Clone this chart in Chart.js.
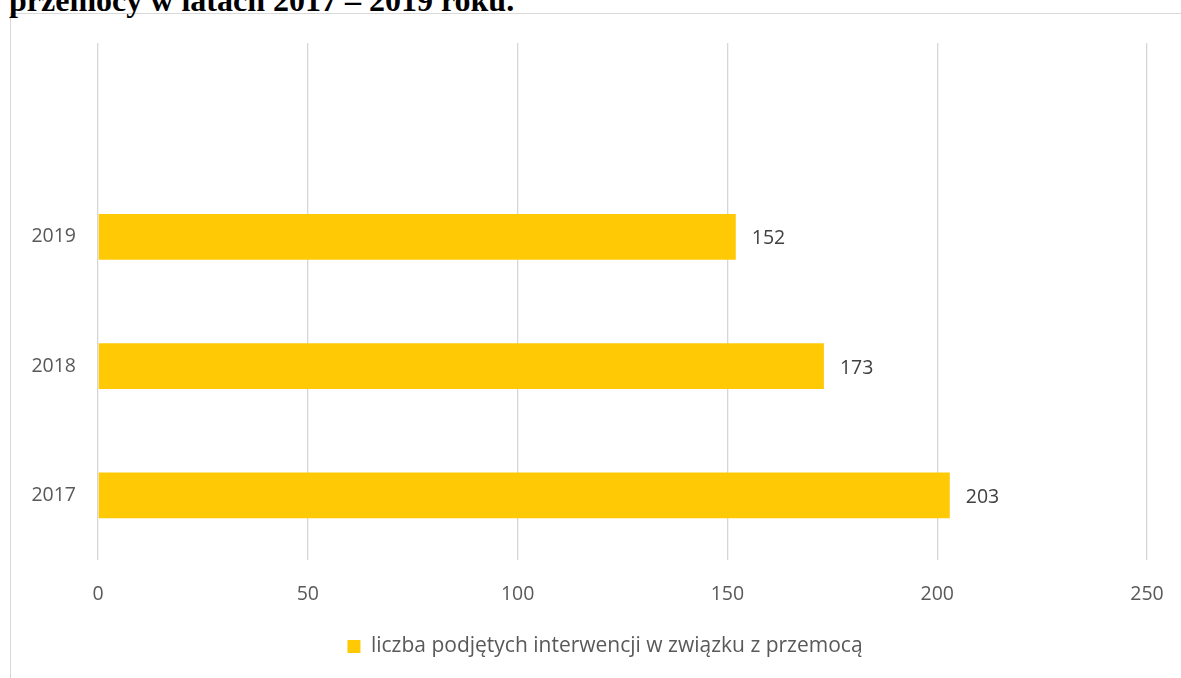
<!DOCTYPE html>
<html>
<head>
<meta charset="utf-8">
<script src="https://cdn.jsdelivr.net/npm/chart.js@4"></script>
<style>
  html, body { margin: 0; padding: 0; background: #fff; overflow: hidden; width: 1181px; height: 678px; }
  #frame { position: absolute; left: 10px; top: 13px; width: 1300px; height: 800px; border: 1px solid #d9d9d9; box-sizing: border-box; }
  #title { position: absolute; left: 9px; top: -16px; font: bold 32px "Liberation Serif", "Times New Roman", serif; line-height: 1; color: #000; white-space: nowrap; }
  #wrap { position: absolute; left: 0; top: 0; width: 1181px; height: 678px; }
</style>
</head>
<body>
<div id="frame"></div>
<div id="title">przemocy w latach 2017 – 2019 roku.</div>
<div id="wrap"><canvas id="c"></canvas></div>
<script>
const categories = ['', '2019', '2018', '2017'];
const interventions = [null, 152, 173, 203];
const seriesName = 'liczba podjętych interwencji w związku z przemocą';
const xTicks = [0, 50, 100, 150, 200, 250];

const barColor = '#FFC906';
const fontFamily = '"Open Sans", "Noto Sans", sans-serif';
const fontSize = 19.5;

const valueLabels = {
  id: 'valueLabels',
  afterDatasetsDraw(chart) {
    const ctx = chart.ctx;
    const meta = chart.getDatasetMeta(0);
    ctx.save();
    ctx.font = fontSize + 'px ' + fontFamily;
    ctx.fillStyle = '#404040';
    ctx.textAlign = 'left';
    ctx.textBaseline = 'middle';
    meta.data.forEach((el, i) => {
      const v = chart.data.datasets[0].data[i];
      if (v === null || v === undefined) return;
      ctx.fillText(String(v), el.x + 16, el.y + 2);
    });
    ctx.restore();
  }
};

new Chart(document.getElementById('c'), {
  type: 'bar',
  data: {
    labels: categories,
    datasets: [{
      label: seriesName,
      data: interventions,
      backgroundColor: barColor,
      borderWidth: 0,
      categoryPercentage: 1,
      barPercentage: 0.354
    }]
  },
  options: {
    indexAxis: 'y',
    responsive: true,
    maintainAspectRatio: false,
    animation: false,
    layout: { padding: { left: 29, right: 0, top: 43, bottom: 11 } },
    scales: {
      x: {
        min: 0,
        max: 250,
        afterBuildTicks(scale) { scale.ticks = xTicks.map(v => ({ value: v })); },
        grid: { color: '#d6d6d6', lineWidth: 1.3, drawTicks: false },
        border: { display: false },
        ticks: { color: '#595959', font: { family: fontFamily, size: fontSize }, padding: 23 },
        afterFit(scale) { scale.height = 66; scale.paddingLeft = 0; scale.paddingRight = 0; }
      },
      y: {
        grid: { display: false, drawTicks: false },
        border: { display: false },
        ticks: { color: '#595959', font: { family: fontFamily, size: fontSize }, padding: 22 },
        afterFit(scale) { scale.width = 69; }
      },
      yRight: {
        type: 'category',
        position: 'right',
        grid: { display: false, drawTicks: false },
        border: { display: false },
        ticks: { display: false },
        afterFit(scale) { scale.width = 34; }
      }
    },
    plugins: {
      legend: {
        position: 'bottom',
        labels: {
          color: '#595959',
          font: { family: fontFamily, size: 21 },
          boxWidth: 13,
          boxHeight: 13,
          padding: 10
        }
      },
      tooltip: { enabled: false }
    }
  },
  plugins: [valueLabels]
});
</script>
</body>
</html>
